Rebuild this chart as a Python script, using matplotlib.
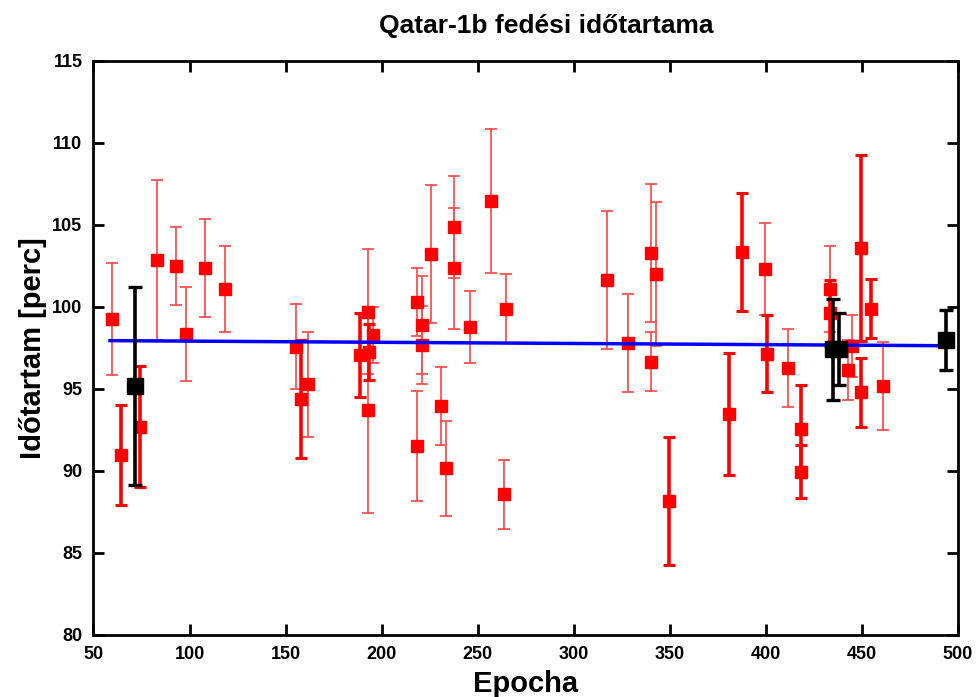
import matplotlib
matplotlib.use("Agg")
import matplotlib.pyplot as plt

# red points drawn with thin error bars
thin_x = [59.8, 82.9, 92.9, 98.0, 108.0, 118.6, 155.2, 161.8, 193.0, 193.0, 195.3,
          218.5, 218.5, 220.8, 220.8, 225.6, 230.8, 233.4, 237.7, 237.7, 245.9,
          256.7, 264.5, 263.7, 317.5, 328.3, 340.4, 342.7, 340.4, 399.4, 411.5,
          433.3, 442.7, 445.0, 461.1]
thin_y = [99.25, 102.85, 102.48, 98.32, 102.36, 101.08, 97.56, 95.27, 99.7, 93.7, 98.27,
          100.27, 91.52, 98.88, 97.67, 103.21, 93.95, 90.15, 104.88, 102.34, 98.74,
          106.46, 99.88, 88.56, 101.61, 97.77, 103.27, 101.98, 96.63, 102.28, 96.26,
          101.08, 96.14, 97.62, 95.16]
thin_err = [3.4, 4.9, 2.4, 2.88, 3.0, 2.6, 2.6, 3.2, 3.8, 6.3, 1.7,
            2.07, 3.35, 3.0, 2.4, 4.2, 2.4, 2.9, 3.1, 3.7, 2.2,
            4.4, 2.1, 2.1, 4.2, 3.0, 4.2, 4.4, 1.8, 2.8, 2.4,
            2.6, 1.85, 1.9, 2.7]

# red points drawn with thick error bars
thick_x = [64.1, 74.2, 157.8, 188.7, 193.5, 349.4, 380.8, 387.4, 400.4, 418.5, 418.5,
           433.3, 449.7, 449.7, 454.5]
thick_y = [90.96, 92.68, 94.37, 97.05, 97.26, 88.13, 93.46, 103.35, 97.13, 92.56, 89.94,
           99.6, 94.78, 103.58, 99.88]
thick_err = [3.07, 3.7, 3.6, 2.55, 1.7, 3.9, 3.7, 3.6, 2.35, 2.67, 1.6,
             2.0, 2.1, 5.7, 1.8]

# black points
black_x = [71.75, 434.9, 438.0, 493.6]
black_y = [95.16, 97.4, 97.4, 97.97]
black_err = [6.05, 3.1, 2.2, 1.8]

# fitted line
fit_x = [58.6, 493.0]
fit_y = [97.93, 97.62]

fig = plt.figure(figsize=(9.79, 6.97), dpi=100)
ax = fig.add_axes([0.0955, 0.0894, 0.883, 0.8235])

ax.errorbar(thin_x, thin_y, yerr=thin_err, fmt='s', color='#ff0000', ecolor='#ff5050',
            elinewidth=1.3, capsize=4, capthick=1.3, markersize=8, zorder=3)
ax.errorbar(thick_x, thick_y, yerr=thick_err, fmt='s', color='#ff0000', ecolor='#ff0000',
            elinewidth=2.6, capsize=4, capthick=2.2, markersize=8, zorder=3)
ax.plot(fit_x, fit_y, color='#0000ff', linewidth=2.5, zorder=4)
ax.errorbar(black_x, black_y, yerr=black_err, fmt='s', color='black', ecolor='black',
            elinewidth=2.6, capsize=5, capthick=2.4, markersize=11, zorder=5)

ax.set_xlim(50, 500)
ax.set_ylim(80, 115)
ax.set_xticks(range(50, 501, 50))
ax.set_yticks(range(80, 116, 5))
ax.tick_params(direction='in', length=8, width=2, top=True, right=True,
               labelsize=13, pad=8)
for lab in ax.get_xticklabels() + ax.get_yticklabels():
    lab.set_fontweight('bold')
    lab.set_family('Liberation Sans')
for s in ax.spines.values():
    s.set_linewidth(2)

fig.text(0.558, 0.962, 'Qatar-1b fedési időtartama', ha='center', va='center',
         fontsize=19, fontweight='bold', family='Liberation Sans')
ax.set_xlabel('Epocha', fontsize=21, fontweight='bold', family='Liberation Sans', labelpad=5)
ax.set_ylabel('Időtartam [perc]', fontsize=21, fontweight='bold', family='Liberation Sans',
              labelpad=4)

fig.savefig('out.png', dpi=100)
